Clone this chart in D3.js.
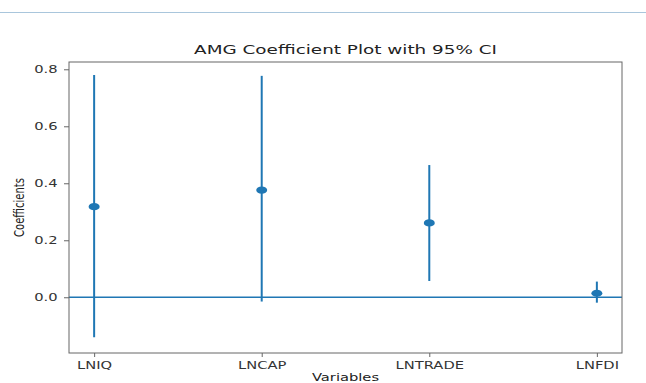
<!DOCTYPE html>
<html>
<head>
<meta charset="utf-8">
<script src="https://cdnjs.cloudflare.com/ajax/libs/d3/7.8.5/d3.min.js"></script>
<style>
  body { margin: 0; background: #fff; }
  svg { display: block; font-family: "DejaVu Sans", sans-serif; }
</style>
</head>
<body>
<div id="chart"></div>
<script>
// values
const categories = ['LNIQ', 'LNCAP', 'LNTRADE', 'LNFDI'];
const coefs = [0.318, 0.376, 0.261, 0.014];
const lower = [-0.140, -0.015, 0.057, -0.019];
const upper = [0.780, 0.777, 0.464, 0.055];
const yTicks = [0.0, 0.2, 0.4, 0.6, 0.8];

const W = 646, H = 383;
const plotLeft = 69, plotRight = 622, plotTop = 62, plotBottom = 353;
const sx = 1.47; // the source image is stretched sideways
const blue = '#1f77b4';
const axisColor = '#666';

const svg = d3.select('#chart').append('svg')
  .attr('width', W)
  .attr('height', H);

// thin rule at the very top
svg.append('line')
  .attr('x1', 0).attr('x2', W)
  .attr('y1', 12.5).attr('y2', 12.5)
  .attr('stroke', '#a9c6dc')
  .attr('stroke-width', 1);

const x = d3.scalePoint()
  .domain(categories)
  .range([plotLeft, plotRight])
  .padding(0.15);

const y = d3.scaleLinear()
  .domain([-0.1956, 0.8256])
  .range([plotBottom, plotTop]);

const rows = categories.map((c, i) => ({ name: c, coef: coefs[i], lo: lower[i], hi: upper[i] }));

// error bars
svg.selectAll('.err')
  .data(rows)
  .enter()
  .append('line')
  .attr('class', 'err')
  .attr('x1', d => x(d.name)).attr('x2', d => x(d.name))
  .attr('y1', d => y(d.lo)).attr('y2', d => y(d.hi))
  .attr('stroke', blue)
  .attr('stroke-width', 2);

// zero line
svg.append('line')
  .attr('x1', plotLeft).attr('x2', plotRight)
  .attr('y1', y(0)).attr('y2', y(0))
  .attr('stroke', blue)
  .attr('stroke-width', 1.5);

// point estimates
svg.selectAll('.pt')
  .data(rows)
  .enter()
  .append('ellipse')
  .attr('class', 'pt')
  .attr('cx', d => x(d.name))
  .attr('cy', d => y(d.coef))
  .attr('rx', 5.5)
  .attr('ry', 3.6)
  .attr('fill', blue);

// frame
svg.append('rect')
  .attr('x', plotLeft).attr('y', plotTop)
  .attr('width', plotRight - plotLeft).attr('height', plotBottom - plotTop)
  .attr('fill', 'none')
  .attr('stroke', axisColor)
  .attr('stroke-width', 1);

// axes
const yAxis = svg.append('g')
  .attr('transform', `translate(${plotLeft},0)`)
  .call(d3.axisLeft(y).tickValues(yTicks).tickFormat(d3.format('.1f')).tickSize(5));

const xAxis = svg.append('g')
  .attr('transform', `translate(0,${plotBottom})`)
  .call(d3.axisBottom(x).tickSize(4));

[yAxis, xAxis].forEach(g => {
  g.select('.domain').remove();
  g.selectAll('line').attr('stroke', axisColor);
  g.selectAll('text')
    .attr('fill', '#333')
    .style('font-size', '10px')
    .style('font-family', '"DejaVu Sans", sans-serif');
});

yAxis.selectAll('text')
  .attr('x', -7.8)
  .attr('transform', `scale(${sx},1)`);

xAxis.selectAll('text')
  .attr('y', 8.6)
  .attr('transform', `scale(${sx},1)`);

// title
svg.append('text')
  .attr('transform', `translate(${(plotLeft + plotRight) / 2},54) scale(${sx},1)`)
  .attr('text-anchor', 'middle')
  .attr('fill', '#222')
  .style('font-size', '12.5px')
  .text('AMG Coefficient Plot with 95% CI');

// axis labels
svg.append('text')
  .attr('transform', `translate(24,${(plotTop + plotBottom) / 2}) scale(${sx},1) rotate(-90)`)
  .attr('text-anchor', 'middle')
  .attr('fill', '#222')
  .style('font-size', '10px')
  .text('Coefficients');

svg.append('text')
  .attr('transform', `translate(${(plotLeft + plotRight) / 2},380.5) scale(${sx},1)`)
  .attr('text-anchor', 'middle')
  .attr('fill', '#222')
  .style('font-size', '10px')
  .text('Variables');
</script>
</body>
</html>
